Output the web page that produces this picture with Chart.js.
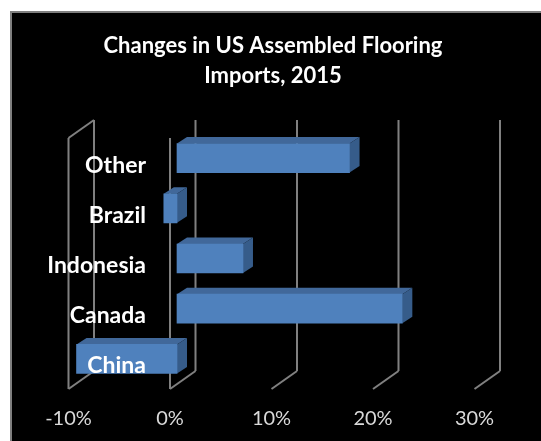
<!DOCTYPE html>
<html>
<head>
<meta charset="utf-8">
<title>Changes in US Assembled Flooring Imports, 2015</title>
<script src="https://cdn.jsdelivr.net/npm/chart.js@4"></script>
<style>
	html, body { margin: 0; padding: 0; background: #fff; overflow: hidden; }
	#frame { position: absolute; left: 10px; top: 11px; width: 531px; height: 430px; background: #000; border-left: 2px solid #7f7f7f; border-top: 2px solid #7f7f7f; box-sizing: border-box; }
	#myChart { position: absolute; left: 11px; top: 12px; }
</style>
</head>
<body>
<div id="frame"></div>
<canvas id="myChart" width="524" height="429"></canvas>
<script>
const titleLines = ['Changes in US Assembled Flooring', 'Imports, 2015']
const categories = ['China', 'Canada', 'Indonesia', 'Brazil', 'Other']
const changes = [-9.9, 22.2, 6.5, -1.3, 17]

// the bars sit between a front and a back wall, offsets are from the bar plane
const front = { dx: -7, dy: 5 }
const back = { dx: 18.5, dy: -13 }
const depth = { dx: 10, dy: -6.5 }

function line(ctx, x1, y1, x2, y2) {
	ctx.beginPath()
	ctx.moveTo(x1, y1)
	ctx.lineTo(x2, y2)
	ctx.stroke()
}

function face(ctx, color, pts) {
	ctx.fillStyle = color
	ctx.beginPath()
	pts.forEach((p, i) => i ? ctx.lineTo(p[0], p[1]) : ctx.moveTo(p[0], p[1]))
	ctx.closePath()
	ctx.fill()
}

const walls = {
	id: 'walls',
	beforeDatasetsDraw(chart) {
		const ctx = chart.ctx
		const area = chart.chartArea
		const x = chart.scales.x
		ctx.save()
		ctx.strokeStyle = '#808080'
		ctx.lineWidth = 2
		x.ticks.forEach(tick => {
			const px = x.getPixelForValue(tick.value)
			line(ctx, px + back.dx, area.top + back.dy, px + back.dx, area.bottom + back.dy)
			line(ctx, px + front.dx, area.bottom + front.dy, px + back.dx, area.bottom + back.dy)
			if (tick.value <= 0) {
				line(ctx, px + front.dx, area.top + front.dy, px + front.dx, area.bottom + front.dy)
			}
			if (tick.value == x.min) {
				line(ctx, px + front.dx, area.top + front.dy, px + back.dx, area.top + back.dy)
			}
		})
		ctx.restore()
	}
}

const barDepth = {
	id: 'barDepth',
	beforeDatasetsDraw(chart) {
		const ctx = chart.ctx
		chart.getDatasetMeta(0).data.forEach(bar => {
			const left = Math.min(bar.x, bar.base)
			const right = Math.max(bar.x, bar.base)
			const top = bar.y - bar.height / 2
			const bottom = bar.y + bar.height / 2
			face(ctx, '#41689a', [[left, top], [right, top], [right + depth.dx, top + depth.dy], [left + depth.dx, top + depth.dy]])
			face(ctx, '#365c8a', [[right, top], [right + depth.dx, top + depth.dy], [right + depth.dx, bottom + depth.dy], [right, bottom]])
		})
	}
}

new Chart(document.getElementById('myChart').getContext('2d'), {
	type: 'bar',
	data: {
		labels: categories,
		datasets: [{
			data: changes,
			backgroundColor: '#4f81bd',
			barThickness: 29
		}]
	},
	options: {
		indexAxis: 'y',
		responsive: false,
		animation: false,
		plugins: {
			legend: { display: false },
			tooltip: { enabled: false },
			title: {
				display: true,
				text: titleLines,
				color: '#ffffff',
				font: { family: 'Lato', size: 22, weight: 'bold', lineHeight: 1.364 },
				padding: { top: 19, bottom: 42 }
			}
		},
		scales: {
			x: {
				min: -10,
				max: 30,
				grid: { display: false },
				border: { display: false },
				afterFit(scale) { scale.height = 57 },
				ticks: {
					stepSize: 10,
					maxRotation: 0,
					labelOffset: -7,
					padding: 15,
					color: '#d9d9d9',
					font: { family: 'Lato', size: 20 },
					callback: value => value + '%'
				}
			},
			// category labels are mirrored from the right so they stay right aligned over the plot
			y: {
				position: 'right',
				reverse: true,
				grid: { display: false },
				border: { display: false },
				afterFit(scale) {
					scale.width = 53.5
					scale.paddingTop = 0
					scale.paddingBottom = 0
				},
				ticks: {
					mirror: true,
					crossAlign: 'near',
					padding: -335.5,
					labelOffset: 7,
					z: 1,
					color: '#ffffff',
					font: { family: 'Lato', size: 23, weight: 'bold' }
				}
			},
			// empty axis, only keeps the plot clear of the left edge
			leftGap: {
				type: 'linear',
				position: 'left',
				grid: { display: false },
				border: { display: false },
				ticks: { display: false },
				afterFit(scale) { scale.width = 64.5 }
			}
		}
	},
	plugins: [walls, barDepth]
})
</script>
</body>
</html>
